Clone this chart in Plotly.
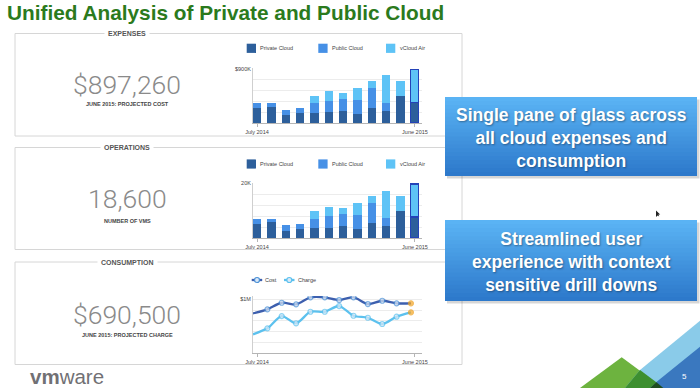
import plotly.graph_objects as go

W, H = 700, 388

# ---------------- data ----------------
months = ["Jul 2014", "Aug 2014", "Sep 2014", "Oct 2014", "Nov 2014", "Dec 2014",
          "Jan 2015", "Feb 2015", "Mar 2015", "Apr 2015", "May 2015", "Jun 2015"]
x_idx = list(range(len(months)))
tick_text = ["July 2014", "June 2015"]

exp_private = [240000, 268000, 123000, 168000, 168000, 179000, 201000, 151000, 240000, 196000, 447000, 330000]
exp_public = [90000, 62000, 95000, 72000, 156000, 184000, 196000, 229000, 336000, 139000, 0, 0]
exp_vcloud = [0, 0, 0, 0, 123000, 157000, 100000, 196000, 117000, 459000, 246000, 550000]

ops_private = [5450, 5900, 2900, 3600, 3750, 4000, 4600, 3500, 5600, 4500, 9900, 7400]
ops_public = [1820, 1370, 1950, 1850, 3520, 4200, 4400, 5100, 7250, 2900, 0, 0]
ops_vcloud = [0, 0, 0, 0, 2630, 3300, 2000, 4250, 2550, 10050, 5500, 11900]

cost = [740000, 815000, 937000, 907000, 1037000, 1037000, 987000, 1037000, 913000, 974000, 926000, 926000]
charge = [352000, 463000, 690000, 556000, 770000, 770000, 876000, 696000, 659000, 543000, 678000, 759000]

series_names = ["Private Cloud", "Public Cloud", "vCloud Air"]
line_names = ["Cost", "Charge"]

panels = [
    ("EXPENSES", "$897,260", "JUNE 2015: PROJECTED COST"),
    ("OPERATIONS", "18,600", "NUMBER OF VMS"),
    ("CONSUMPTION", "$690,500", "JUNE 2015: PROJECTED CHARGE"),
]
callouts = ["Single pane of glass across<br>all cloud expenses and<br>consumption",
            "Streamlined user<br>experience with context<br>sensitive drill downs"]

# ---------------- styles ----------------
C_PRIV, C_PUB, C_VC = "#2d5f9b", "#4690e6", "#5ec3f6"
C_SEL = "#2443b8"
C_COST, C_CHARGE = "#3d5fae", "#5cc1ee"
GRID = "#ececec"
TXT = "#444444"


def px(x):
    return x / W


def py(y):
    return 1 - y / H


last = len(months) - 1
sel_w = [0] * last + [1.5]

fig = go.Figure()

# expenses bars
for vals, name, col in zip([exp_private, exp_public, exp_vcloud], series_names, [C_PRIV, C_PUB, C_VC]):
    lw = [w if v > 0 else 0 for w, v in zip(sel_w, vals)]
    fig.add_trace(go.Bar(x=x_idx, y=vals, name=name, marker=dict(color=col, line=dict(color=C_SEL, width=lw)),
                         width=0.58, xaxis="x", yaxis="y", showlegend=False))
# operations bars
for vals, name, col in zip([ops_private, ops_public, ops_vcloud], series_names, [C_PRIV, C_PUB, C_VC]):
    lw = [w if v > 0 else 0 for w, v in zip(sel_w, vals)]
    fig.add_trace(go.Bar(x=x_idx, y=vals, name=name, marker=dict(color=col, line=dict(color=C_SEL, width=lw)),
                         width=0.58, xaxis="x2", yaxis="y2", showlegend=False))

# consumption lines
msize = [0] + [5] * (len(months) - 1)
for vals, name, col, ring in zip([cost, charge], line_names, [C_COST, C_CHARGE], ["#4a90d6", "#5cc1ee"]):
    fig.add_trace(go.Scatter(
        x=x_idx, y=vals, name=name, mode="lines+markers",
        line=dict(color=col, width=2.3, shape="spline", smoothing=0.8),
        marker=dict(size=msize, color=["#dbe9f7"] * last + ["#f6a623"],
                    line=dict(color=[ring] * last + ["#eea020"], width=1.2)),
        xaxis="x3", yaxis="y3", showlegend=False))

xdom = [px(253), px(422)]
common_x = dict(domain=xdom, showgrid=False, zeroline=False, showline=True, linecolor="#b5b5b5",
                automargin=False, ticks="outside", ticklen=3, tickcolor="#b5b5b5",
                tickfont=dict(size=5.5, color=TXT, family="Liberation Sans"))
common_y = dict(showgrid=True, gridcolor=GRID, zeroline=False, showline=True, linecolor="#cfcfcf",
                automargin=False, ticks="", tickfont=dict(size=5.5, color=TXT, family="Liberation Sans"))

fig.update_layout(
    width=W, height=H, margin=dict(l=0, r=0, t=0, b=0, pad=0, autoexpand=False),
    paper_bgcolor="white", plot_bgcolor="rgba(0,0,0,0)", barmode="stack", bargap=0,
    xaxis=dict(common_x, anchor="y", range=[-0.28, 11.49], tickvals=[0, last], ticktext=tick_text),
    yaxis=dict(common_y, anchor="x", domain=[py(123), py(68.4)], range=[0, 910000],
               tickvals=[0, 180000, 360000, 540000, 720000, 900000], ticktext=["", "", "", "", "", "$900K"]),
    xaxis2=dict(common_x, anchor="y2", range=[-0.28, 11.49], tickvals=[0, last], ticktext=tick_text),
    yaxis2=dict(common_y, anchor="x2", domain=[py(238.3), py(182.7)], range=[0, 20200],
                tickvals=[0, 4000, 8000, 12000, 16000, 20000], ticktext=["", "", "", "", "", "20K"]),
    xaxis3=dict(common_x, anchor="y3", range=[0, 11.77], tickvals=[0.28, last + 0.28], ticktext=tick_text),
    yaxis3=dict(common_y, anchor="x3", domain=[py(353.3), py(296.1)], range=[0, 1060000],
                tickvals=[0, 200000, 400000, 600000, 800000, 1000000], ticktext=["", "", "", "", "", "$1M"]),
)

shapes = []
ann = []


def note(x, y, text, size, color, xanchor="center", family="Liberation Sans", **kw):
    font = dict(size=size, color=color, family=family)
    font.update(kw.pop("font_extra", {}))
    d = dict(x=px(x), y=py(y), xref="paper", yref="paper", text=text, showarrow=False,
             xanchor=xanchor, yanchor="middle", font=font)
    d.update(kw)
    ann.append(d)


# panel boxes
panel_boxes = [(33.5, 136), (147.5, 249.5), (262, 364.5)]
num_y = [84.5, 198.5, 314.5]
sub_y = [104, 221, 335]
for (t, b), (title, big, sub), ny, sy in zip(panel_boxes, panels, num_y, sub_y):
    shapes.append(dict(type="rect", xref="paper", yref="paper", x0=px(15), x1=px(462), y0=py(b), y1=py(t),
                       line=dict(color="#d6d6d6", width=1), fillcolor="rgba(0,0,0,0)"))
    note(127, t, "<b>" + title + "</b>", 7, "#555", bgcolor="white", borderpad=3)
    note(127, ny, big, 26.5, "#8a8a8a", family="Roboto", font_extra=dict(weight=300))
    note(127, sy, "<b>" + sub + "</b>", 5.5, TXT)

# bar legends
for ly in [48.3, 164]:
    for name, col, sx in zip(series_names, [C_PRIV, C_PUB, C_VC], [246.7, 318.3, 386]):
        shapes.append(dict(type="rect", xref="paper", yref="paper", x0=px(sx), x1=px(sx + 9.3),
                           y0=py(ly + 4.6), y1=py(ly - 4.6), fillcolor=col, line=dict(width=0)))
        note(sx + 11.5, ly, name, 5.5, TXT, xanchor="left")

# line legend
for name, col, ring, sx in zip(line_names, [C_COST, C_CHARGE], ["#4a90d6", "#5cc1ee"], [251.7, 284]):
    shapes.append(dict(type="line", xref="paper", yref="paper", x0=px(sx), x1=px(sx + 10.5),
                       y0=py(280), y1=py(280), line=dict(color=col, width=2.3)))
    shapes.append(dict(type="circle", xref="paper", yref="paper", x0=px(sx + 2.8), x1=px(sx + 7.8),
                       y0=py(282.5), y1=py(277.5), fillcolor="#dbe9f7", line=dict(color=ring, width=1.2)))
    note(sx + 11.5, 280, name, 5.5, TXT, xanchor="left")

# callout boxes with vertical gradient
top_c, bot_c = (90, 179, 244), (45, 121, 203)
n = 20
for (bt, bb), text in zip([(97, 176), (220, 301)], callouts):
    shapes.append(dict(type="rect", xref="paper", yref="paper", x0=px(447), x1=px(699.5),
                       y0=py(bb + 2.5), y1=py(bt + 2.5), fillcolor="rgba(0,0,0,0.16)", line=dict(width=0)))
    hstep = (bb - bt) / n
    for i in range(n):
        f = i / (n - 1)
        c = tuple(int(round(a + (b - a) * f)) for a, b in zip(top_c, bot_c))
        y_bot = min(bb, bt + (i + 1) * hstep + 1.0)
        shapes.append(dict(type="rect", xref="paper", yref="paper", x0=px(445), x1=px(697),
                           y0=py(y_bot), y1=py(bt + i * hstep),
                           fillcolor="rgb(%d,%d,%d)" % c, line=dict(width=0)))
    note(571, (bt + bb) / 2 + 1.5, "<b>" + text + "</b>", 17.5, "white", align="center",
         font_extra=dict(shadow="1px 1px 2px rgba(0,0,0,0.35)"))


# decorative triangles bottom right
def path(pts):
    return "M " + " L ".join("%f,%f" % (px(a), py(b)) for a, b in pts) + " Z"


tri = [
    ([(580, 388), (621.7, 357.3), (663.3, 388)], "#6db33f"),
    ([(625, 388), (640, 370), (700, 320.7), (700, 388)], "#8acbe9"),
    ([(650, 388), (656.7, 381.7), (700, 346.7), (700, 388)], "#3a78bf"),
    ([(625, 388), (640, 370), (656.7, 382.5), (650, 388)], "#3d8f30"),
    ([(650, 388), (656.5, 382.3), (663.3, 388)], "#1f4d20"),
    # small mouse pointer
    ([(656, 210.5), (656, 217), (657.6, 215.6), (659.2, 216.4), (658.4, 214.6), (660.2, 214.4)], "#222222"),
]
for pts, col in tri:
    shapes.append(dict(type="path", xref="paper", yref="paper", path=path(pts), fillcolor=col,
                       line=dict(width=0)))

note(684, 376, "5", 8, "white")

# title
note(5, 12.5, "<b>Unified Analysis of Private and Public Cloud</b>", 20.8, "#2b7a1d", xanchor="left")

# vmware logo
note(28, 376.5, "<b>vm</b>ware", 20.5, "#717074", xanchor="left")

fig.update_layout(shapes=shapes, annotations=ann)
fig.write_html("out.html", config={"displayModeBar": False},
               post_script="document.body.style.margin='0';document.body.style.overflow='hidden';")
